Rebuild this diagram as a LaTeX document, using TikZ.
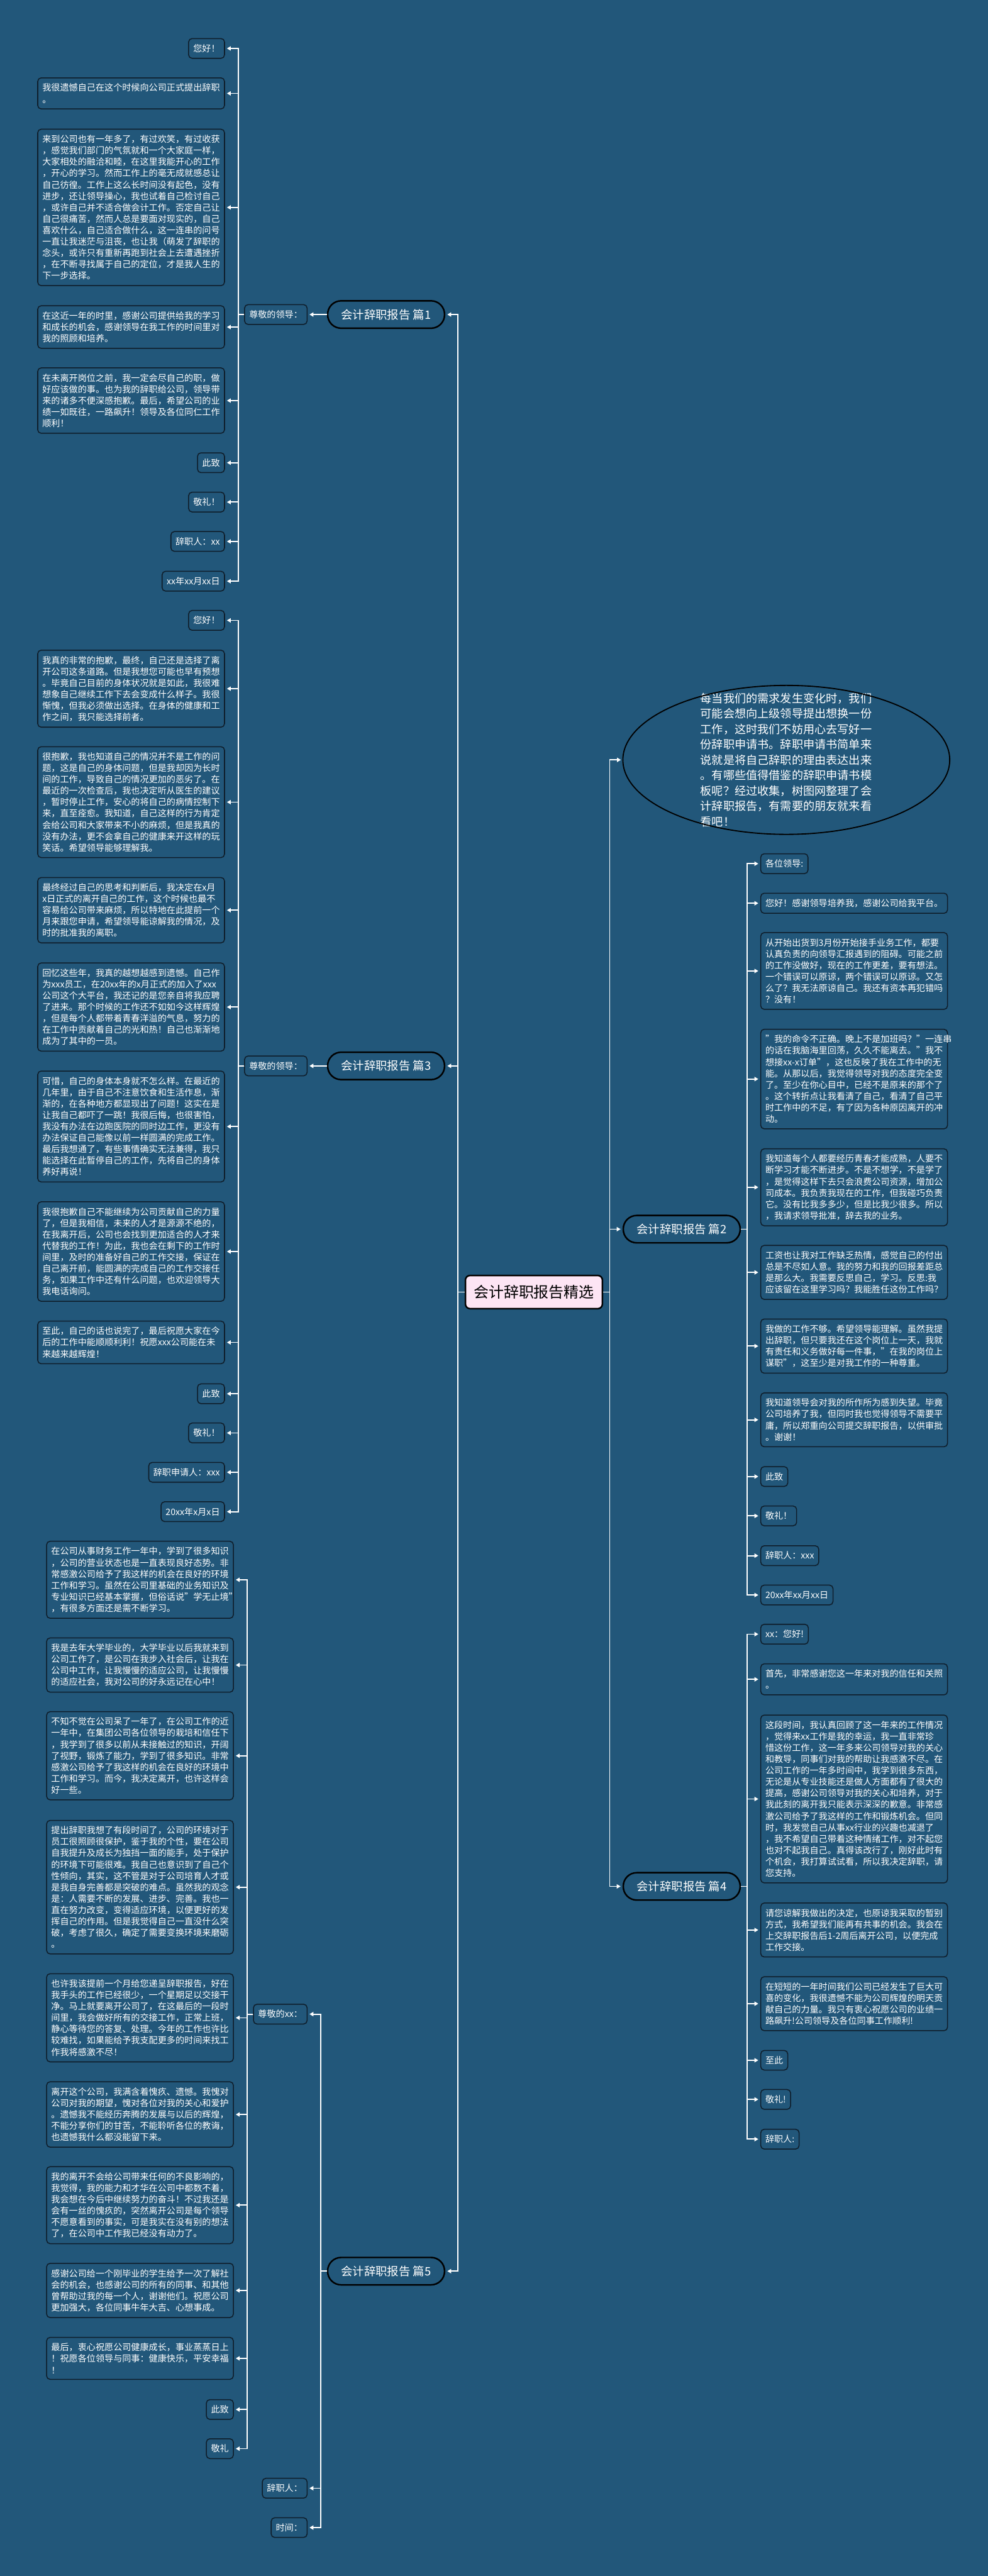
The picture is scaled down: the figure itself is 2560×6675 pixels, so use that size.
\documentclass[tikz,border=0pt]{standalone}
\usepackage{fontspec}
\setmainfont{Noto Sans CJK SC}
\usetikzlibrary{arrows.meta}
\definecolor{bgblue}{HTML}{22577A}
\definecolor{rootpink}{HTML}{FDE5F4}
\definecolor{edgeline}{HTML}{0F1E2B}

\begin{document}
\begin{tikzpicture}[
    x=1pt, y=-1pt,
    every node/.style={text=white, font=\fontsize{23}{29.5}\selectfont},
    leaf/.style={draw=edgeline, line width=2.5pt, rounded corners=9pt, inner xsep=12pt, inner ysep=15pt, align=left},
    para/.style={leaf, text width=460pt},
    branch/.style={draw=black, line width=4pt, rounded corners=35pt, minimum width=303pt, minimum height=71pt, font=\fontsize{30}{36}\selectfont},
    root/.style={draw=black, line width=4pt, rounded corners=12pt, fill=rootpink, text=black, minimum width=355pt, minimum height=86pt, font=\fontsize{39}{45}\selectfont},
    intro/.style={minimum width=847pt, minimum height=386pt, text width=445pt, align=left, font=\fontsize{29.6}{40}\selectfont},
    bubble/.style={draw=black, line width=3pt},
    link/.style={draw=white, line width=3pt},
    arr/.style={link, -{Triangle[length=10pt, width=11pt]}, shorten >=5pt}
  ]

  \fill[bgblue] (0,0) rectangle (2560,6675);
  \useasboundingbox (0,0) rectangle (2560,6675);

  \node[root] (root) at (1383.5,3348) {会计辞职报告精选};

  \node[branch] (b1) at (1000.5,815)  {会计辞职报告 篇1};
  \node[branch] (b3) at (1000.5,2762) {会计辞职报告 篇3};
  \node[branch] (b5) at (1000.5,5885) {会计辞职报告 篇5};
  \node[branch] (b2) at (1766.5,3185) {会计辞职报告 篇2};
  \node[branch] (b4) at (1766.5,4888) {会计辞职报告 篇4};

  \node[intro] (intro) at (2037.5,1969) {每当我们的需求发生变化时，我们\\可能会想向上级领导提出想换一份\\工作，这时我们不妨用心去写好一\\份辞职申请书。辞职申请书简单来\\说就是将自己辞职的理由表达出来\\。有哪些值得借鉴的辞职申请书模\\板呢？经过收集，树图网整理了会\\计辞职报告，有需要的朋友就来看\\看吧！};
  \draw[bubble] (intro.center) ellipse [x radius=423.5, y radius=193];

  \node[leaf, anchor=east] (t1) at (797,815) {尊敬的领导：};
  \node[leaf, anchor=east] (p1a) at (583,125.5) {您好！};
  \node[para, anchor=east] (p1b) at (583,242) {我很遗憾自己在这个时候向公司正式提出辞职\\。};
  \node[para, anchor=east] (p1c) at (583,537.5) {来到公司也有一年多了，有过欢笑，有过收获\\，感觉我们部门的气氛就和一个大家庭一样，\\大家相处的融洽和睦，在这里我能开心的工作\\，开心的学习。然而工作上的毫无成就感总让\\自己彷徨。工作上这么长时间没有起色，没有\\进步，还让领导操心，我也试着自己检讨自己\\，或许自己并不适合做会计工作。否定自己让\\自己很痛苦，然而人总是要面对现实的，自己\\喜欢什么，自己适合做什么，这一连串的问号\\一直让我迷茫与沮丧，也让我（萌发了辞职的\\念头，或许只有重新再跑到社会上去遭遇挫折\\，在不断寻找属于自己的定位，才是我人生的\\下一步选择。};
  \node[para, anchor=east] (p1d) at (583,847.5) {在这近一年的时里，感谢公司提供给我的学习\\和成长的机会，感谢领导在我工作的时间里对\\我的照顾和培养。};
  \node[para, anchor=east] (p1e) at (583,1038) {在未离开岗位之前，我一定会尽自己的职，做\\好应该做的事。也为我的辞职给公司，领导带\\来的诸多不便深感抱歉。最后，希望公司的业\\绩一如既往，一路飙升！领导及各位同仁工作\\顺利！};
  \node[leaf, anchor=east] (p1f) at (583,1199) {此致};
  \node[leaf, anchor=east] (p1g) at (583,1301) {敬礼！};
  \node[leaf, anchor=east] (p1h) at (583,1403) {辞职人：xx};
  \node[leaf, anchor=east] (p1i) at (583,1506) {xx年xx月xx日};

  \node[leaf, anchor=east] (t3) at (797,2762) {尊敬的领导：};
  \node[leaf, anchor=east] (p3a) at (583,1607.5) {您好！};
  \node[para, anchor=east] (p3b) at (583,1784.5) {我真的非常的抱歉，最终，自己还是选择了离\\开公司这条道路。但是我想您可能也早有预想\\。毕竟自己目前的身体状况就是如此，我很难\\想象自己继续工作下去会变成什么样子。我很\\惭愧，但我必须做出选择。在身体的健康和工\\作之间，我只能选择前者。};
  \node[para, anchor=east] (p3c) at (583,2078.5) {很抱歉，我也知道自己的情况并不是工作的问\\题，这是自己的身体问题，但是我却因为长时\\间的工作，导致自己的情况更加的恶劣了。在\\最近的一次检查后，我也决定听从医生的建议\\，暂时停止工作，安心的将自己的病情控制下\\来，直至痊愈。我知道，自己这样的行为肯定\\会给公司和大家带来不小的麻烦，但是我真的\\没有办法，更不会拿自己的健康来开这样的玩\\笑话。希望领导能够理解我。};
  \node[para, anchor=east] (p3d) at (583,2358.5) {最终经过自己的思考和判断后，我决定在x月\\x日正式的离开自己的工作，这个时候也最不\\容易给公司带来麻烦，所以特地在此提前一个\\月来跟您申请，希望领导能谅解我的情况，及\\时的批准我的离职。};
  \node[para, anchor=east] (p3e) at (583,2609.5) {回忆这些年，我真的越想越感到遗憾。自己作\\为xxx员工，在20xx年的x月正式的加入了xxx\\公司这个大平台，我还记的是您亲自将我应聘\\了进来。那个时候的工作还不如如今这样辉煌\\，但是每个人都带着青春洋溢的气息，努力的\\在工作中贡献着自己的光和热！自己也渐渐地\\成为了其中的一员。};
  \node[para, anchor=east] (p3f) at (583,2919) {可惜，自己的身体本身就不怎么样。在最近的\\几年里，由于自己不注意饮食和生活作息，渐\\渐的，在各种地方都显现出了问题！这实在是\\让我自己都吓了一跳！我很后悔，也很害怕，\\我没有办法在边跑医院的同时边工作，更没有\\办法保证自己能像以前一样圆满的完成工作。\\最后我想通了，有些事情确实无法兼得，我只\\能选择在此暂停自己的工作，先将自己的身体\\养好再说！};
  \node[para, anchor=east] (p3g) at (583,3243) {我很抱歉自己不能继续为公司贡献自己的力量\\了，但是我相信，未来的人才是源源不绝的，\\在我离开后，公司也会找到更加适合的人才来\\代替我的工作！为此，我也会在剩下的工作时\\间里，及时的准备好自己的工作交接，保证在\\自己离开前，能圆满的完成自己的工作交接任\\务，如果工作中还有什么问题，也欢迎领导大\\我电话询问。};
  \node[para, anchor=east] (p3h) at (583,3478.5) {至此，自己的话也说完了，最后祝愿大家在今\\后的工作中能顺顺利利！祝愿xxx公司能在未\\来越来越辉煌！};
  \node[leaf, anchor=east] (p3i) at (583,3611.5) {此致};
  \node[leaf, anchor=east] (p3j) at (583,3713) {敬礼！};
  \node[leaf, anchor=east] (p3k) at (583,3815) {辞职申请人：xxx};
  \node[leaf, anchor=east] (p3l) at (583,3917) {20xx年x月x日};

  \node[leaf, anchor=east] (t5) at (797,5219) {尊敬的xx：};
  \node[leaf, anchor=east] (p5x) at (797,6447.5) {辞职人：};
  \node[leaf, anchor=east] (p5y) at (797,6549.5) {时间：};
  \node[para, anchor=east] (p5a) at (606,4093.5) {在公司从事财务工作一年中，学到了很多知识\\，公司的营业状态也是一直表现良好态势。非\\常感激公司给予了我这样的机会在良好的环境\\工作和学习。虽然在公司里基础的业务知识及\\专业知识已经基本掌握，但俗话说"学无止境"\\，有很多方面还是需不断学习。};
  \node[para, anchor=east] (p5b) at (606,4314.5) {我是去年大学毕业的，大学毕业以后我就来到\\公司工作了，是公司在我步入社会后，让我在\\公司中工作，让我慢慢的适应公司，让我慢慢\\的适应社会，我对公司的好永远记在心中！};
  \node[para, anchor=east] (p5c) at (606,4549.5) {不知不觉在公司呆了一年了，在公司工作的近\\一年中，在集团公司各位领导的栽培和信任下\\，我学到了很多以前从未接触过的知识，开阔\\了视野，锻炼了能力，学到了很多知识。非常\\感激公司给予了我这样的机会在良好的环境中\\工作和学习。而今，我决定离开，也许这样会\\好一些。};
  \node[para, anchor=east] (p5d) at (606,4890) {提出辞职我想了有段时间了，公司的环境对于\\员工很照顾很保护，鉴于我的个性，要在公司\\自我提升及成长为独挡一面的能手，处于保护\\的环境下可能很难。我自己也意识到了自己个\\性倾向，其实，这不管是对于公司培育人才或\\是我自身完善都是突破的难点。虽然我的观念\\是：人需要不断的发展、进步、完善。我也一\\直在努力改变，变得适应环境，以便更好的发\\挥自己的作用。但是我觉得自己一直没什么突\\破，考虑了很久，确定了需要变换环境来磨砺\\。};
  \node[para, anchor=east] (p5e) at (606,5228.5) {也许我该提前一个月给您递呈辞职报告，好在\\我手头的工作已经很少，一个星期足以交接干\\净。马上就要离开公司了，在这最后的一段时\\间里，我会做好所有的交接工作，正常上班，\\静心等待您的答复、处理。今年的工作也许比\\较难找，如果能给予我支配更多的时间来找工\\作我将感激不尽！};
  \node[para, anchor=east] (p5f) at (606,5479) {离开这个公司，我满含着愧疚、遗憾。我愧对\\公司对我的期望，愧对各位对我的关心和爱护\\。遗憾我不能经历奔腾的发展与以后的辉煌，\\不能分享你们的甘苦，不能聆听各位的教诲，\\也遗憾我什么都没能留下来。};
  \node[para, anchor=east] (p5g) at (606,5714) {我的离开不会给公司带来任何的不良影响的，\\我觉得，我的能力和才华在公司中都数不着，\\我会想在今后中继续努力的奋斗！不过我还是\\会有一丝的愧疚的，突然离开公司是每个领导\\不愿意看到的事实，可是我实在没有别的想法\\了，在公司中工作我已经没有动力了。};
  \node[para, anchor=east] (p5h) at (606,5935) {感谢公司给一个刚毕业的学生给予一次了解社\\会的机会，也感谢公司的所有的同事、和其他\\曾帮助过我的每一个人，谢谢他们。祝愿公司\\更加强大，各位同事牛年大吉、心想事成。};
  \node[para, anchor=east] (p5i) at (606,6111) {最后，衷心祝愿公司健康成长，事业蒸蒸日上\\！祝愿各位领导与同事：健康快乐，平安幸福\\！};
  \node[leaf, anchor=east] (p5j) at (606,6243.5) {此致};
  \node[leaf, anchor=east] (p5k) at (606,6345) {敬礼};

  \node[leaf, anchor=west] (q2a) at (1970,2238) {各位领导:};
  \node[para, anchor=west] (q2b) at (1970,2340.5) {您好！感谢领导培养我，感谢公司给我平台。};
  \node[para, anchor=west] (q2c) at (1970,2516) {从开始出货到3月份开始接手业务工作，都要\\认真负责的向领导汇报遇到的阻碍。可能之前\\的工作没做好，现在的工作更差，要有想法。\\一个错误可以原谅，两个错误可以原谅。又怎\\么了？我无法原谅自己。我还有资本再犯错吗\\？没有！};
  \node[para, anchor=west] (q2d) at (1970,2796) {"我的命令不正确。晚上不是加班吗？"一连串\\的话在我脑海里回荡，久久不能离去。"我不\\想接xx-x订单"，这也反映了我在工作中的无\\能。从那以后，我觉得领导对我的态度完全变\\了。至少在你心目中，已经不是原来的那个了\\。这个转折点让我看清了自己，看清了自己平\\时工作中的不足，有了因为各种原因离开的冲\\动。};
  \node[para, anchor=west] (q2e) at (1970,3076.5) {我知道每个人都要经历青春才能成熟，人要不\\断学习才能不断进步。不是不想学，不是学了\\，是觉得这样下去只会浪费公司资源，增加公\\司成本。我负责我现在的工作，但我碰巧负责\\它。没有比我多多少，但是比我少很多。所以\\，我请求领导批准，辞去我的业务。};
  \node[para, anchor=west] (q2f) at (1970,3297) {工资也让我对工作缺乏热情，感觉自己的付出\\总是不尽如人意。我的努力和我的回报差距总\\是那么大。我需要反思自己，学习。反思:我\\应该留在这里学习吗？我能胜任这份工作吗？};
  \node[para, anchor=west] (q2g) at (1970,3488) {我做的工作不够。希望领导能理解。虽然我提\\出辞职，但只要我还在这个岗位上一天，我就\\有责任和义务做好每一件事，"在我的岗位上\\谋职"，这至少是对我工作的一种尊重。};
  \node[para, anchor=west] (q2h) at (1970,3679) {我知道领导会对我的所作所为感到失望。毕竟\\公司培养了我，但同时我也觉得领导不需要平\\庸，所以郑重向公司提交辞职报告，以供审批\\。谢谢！};
  \node[leaf, anchor=west] (q2i) at (1970,3826) {此致};
  \node[leaf, anchor=west] (q2j) at (1970,3928) {敬礼！};
  \node[leaf, anchor=west] (q2k) at (1970,4031) {辞职人：xxx};
  \node[leaf, anchor=west] (q2l) at (1970,4133) {20xx年xx月xx日};

  \node[leaf, anchor=west] (q4a) at (1970,4234.5) {xx：您好!};
  \node[para, anchor=west] (q4b) at (1970,4351.5) {首先，非常感谢您这一年来对我的信任和关照\\。};
  \node[para, anchor=west] (q4c) at (1970,4661.5) {这段时间，我认真回顾了这一年来的工作情况\\，觉得来xx工作是我的幸运，我一直非常珍\\惜这份工作，这一年多来公司领导对我的关心\\和教导，同事们对我的帮助让我感激不尽。在\\公司工作的一年多时间中，我学到很多东西，\\无论是从专业技能还是做人方面都有了很大的\\提高，感谢公司领导对我的关心和培养，对于\\我此刻的离开我只能表示深深的歉意。非常感\\激公司给予了我这样的工作和锻炼机会。但同\\时，我发觉自己从事xx行业的兴趣也减退了\\，我不希望自己带着这种情绪工作，对不起您\\也对不起我自己。真得该改行了，刚好此时有\\个机会，我打算试试看，所以我决定辞职，请\\您支持。};
  \node[para, anchor=west] (q4d) at (1970,5001) {请您谅解我做出的决定，也原谅我采取的暂别\\方式，我希望我们能再有共事的机会。我会在\\上交辞职报告后1-2周后离开公司，以便完成\\工作交接。};
  \node[para, anchor=west] (q4e) at (1970,5192) {在短短的一年时间我们公司已经发生了巨大可\\喜的变化，我很遗憾不能为公司辉煌的明天贡\\献自己的力量。我只有衷心祝愿公司的业绩一\\路飙升!公司领导及各位同事工作顺利!};
  \node[leaf, anchor=west] (q4f) at (1970,5338.5) {至此};
  \node[leaf, anchor=west] (q4g) at (1970,5440) {敬礼!};
  \node[leaf, anchor=west] (q4h) at (1970,5543) {辞职人:};

  \coordinate (ml) at (1187,3348);
  \coordinate (mr) at (1580,3348);
  \coordinate (s1) at (617,815);
  \coordinate (s3) at (617,2762);
  \coordinate (s5) at (640,5219);
  \coordinate (s5b) at (831,5885);
  \coordinate (s2) at (1936,3185);
  \coordinate (s4) at (1936,4888);

  \foreach \b in {b1,b3,b5}
    \draw[arr] (root.west) -- (ml) |- (\b.east);
  \foreach \b in {intro,b2,b4}
    \draw[arr] (root.east) -- (mr) |- (\b.west);

  \draw[arr] (b1.west) -- (t1.east);
  \draw[arr] (b3.west) -- (t3.east);
  \foreach \c in {t5,p5x,p5y}
    \draw[arr] (b5.west) -- (s5b) |- (\c.east);

  \foreach \c in {p1a,p1b,p1c,p1d,p1e,p1f,p1g,p1h,p1i}
    \draw[arr] (t1.west) -- (s1) |- (\c.east);
  \foreach \c in {p3a,p3b,p3c,p3d,p3e,p3f,p3g,p3h,p3i,p3j,p3k,p3l}
    \draw[arr] (t3.west) -- (s3) |- (\c.east);
  \foreach \c in {p5a,p5b,p5c,p5d,p5e,p5f,p5g,p5h,p5i,p5j,p5k}
    \draw[arr] (t5.west) -- (s5) |- (\c.east);
  \foreach \c in {q2a,q2b,q2c,q2d,q2e,q2f,q2g,q2h,q2i,q2j,q2k,q2l}
    \draw[arr] (b2.east) -- (s2) |- (\c.west);
  \foreach \c in {q4a,q4b,q4c,q4d,q4e,q4f,q4g,q4h}
    \draw[arr] (b4.east) -- (s4) |- (\c.west);
\end{tikzpicture}
\end{document}
